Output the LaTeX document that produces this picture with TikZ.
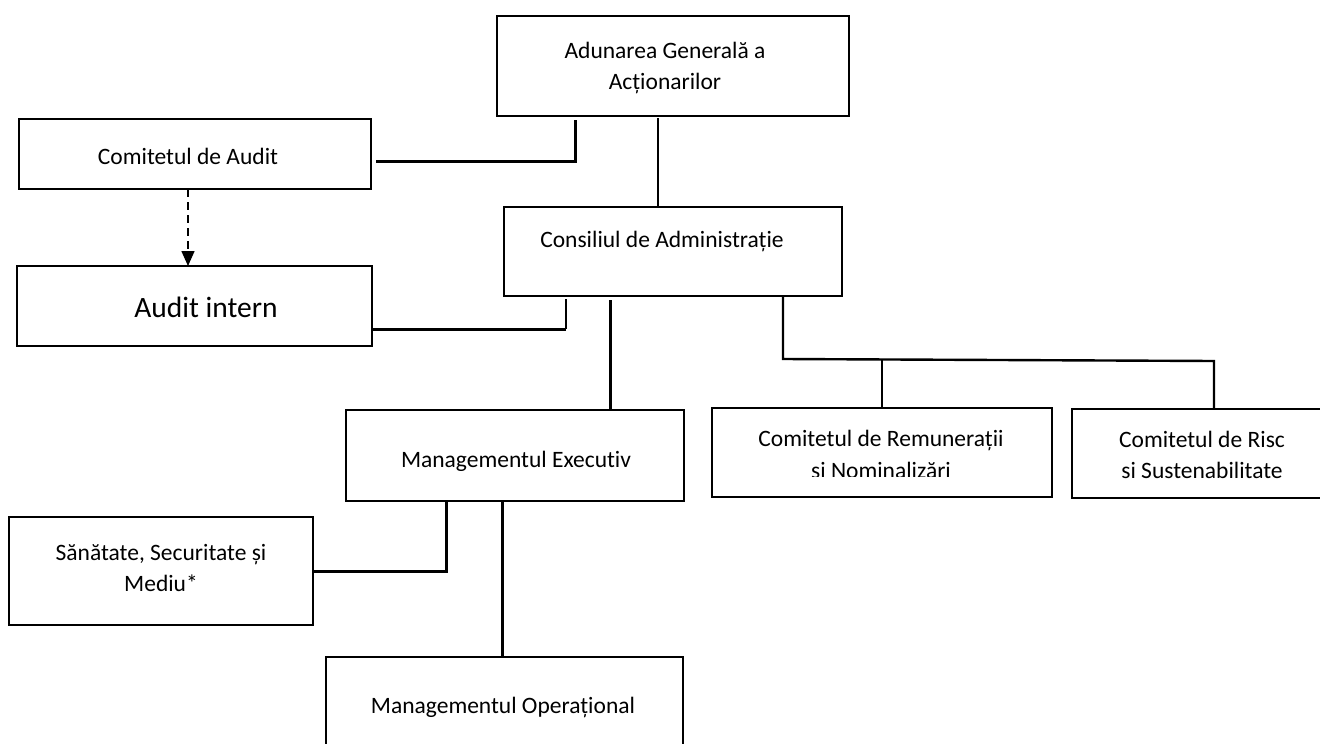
\documentclass[tikz,border=0pt]{standalone}
\usepackage{fontspec}
\setmainfont{Carlito}[Ligatures=NoCommon]
\usetikzlibrary{arrows.meta,calc}
\begin{document}
\begin{tikzpicture}[x=1pt,y=-1pt,
  box/.style={draw,line width=2.5pt,inner sep=0pt,outer sep=0pt,rectangle},
  txt/.style={align=center,inner sep=0pt,font=\fontsize{23.5}{31}\selectfont},
  bigtxt/.style={align=center,inner sep=0pt,font=\fontsize{29.5}{35}\selectfont},
  thickc/.style={line width=3pt},
  medc/.style={line width=2.4pt},
  thinc/.style={line width=1.2pt},
  dashc/.style={line width=1.5pt,dash pattern=on 8pt off 5pt,-{Triangle[length=15pt,width=13pt]}}]
\fill[white] (0,0) rectangle (1320,744);
\useasboundingbox (0,0) rectangle (1320,744);

% boxes
\node[box,minimum width=352pt,minimum height=100pt] (aga) at (673,66) {};
\node[txt] (agat) at (665,67.5) {Adunarea Generală a\\Acționarilor};

\node[box,minimum width=352pt,minimum height=70pt] (cda) at (195,154) {};
\node[txt] (cdat) at (188,156) {Comitetul de Audit};

\node[box,minimum width=355pt,minimum height=80pt] (ai) at (194.5,306) {};
\node[bigtxt] (ait) at (206,307) {Audit intern};

\node[box,minimum width=338pt,minimum height=89pt] (ca) at (673,251.5) {};
\node[txt] (cat) at (662,241) {Consiliul de Administrație};

\node[box,minimum width=338pt,minimum height=91pt] (me) at (515,455.5) {};
\node[txt] (met) at (516,461) {Managementul Executiv};

\node[box,minimum width=340pt,minimum height=89pt] (rem) at (882,452.5) {};
\node[txt] (remt1) at (881,440) {Comitetul de Remunerații};
\begin{scope}
\clip (712,450) rectangle (1052,476);
\node[txt] (remt2) at (881,470) {si Nominalizări};
\end{scope}

\node[box,minimum width=260pt,minimum height=89pt] (risc) at (1202,453.5) {};
\node[txt] (risct) at (1202,454.5) {Comitetul de Risc\\si Sustenabilitate};

\node[box,minimum width=304pt,minimum height=108pt] (ssm) at (161,571) {};
\node[txt] (ssmt) at (161,568) {Sănătate, Securitate și\\Mediu*};

\node[box,minimum width=357pt,minimum height=143pt] (mo) at (504.5,728.5) {};
\node[txt] (mot) at (503,707) {Managementul Operațional};

% connectors
\draw[thickc] ($(cda.east)+(5,7)$) -| ($(aga.south)+(-98,4)$);
\draw[thinc] ($(aga.south)+(-15,2)$) -- ($(ca.north)+(-15,0)$);
\draw[dashc] ($(cda.south)+(-7,0)$) -- ($(ai.north)+(-6.5,0)$);
\coordinate (aic) at ($(ca.south)+(-107,33)$);
\draw[thickc] ($(ai.east)+(0,23)$) -- (aic);
\draw[thinc] (aic) -- ($(ca.south)+(-107,3)$);
\draw[thickc] ($(ca.south)+(-63,4)$) -- ($(me.north)+(95,0)$);
\coordinate (cb) at ($(ca.south)+(110,63)$);
\draw[medc] (ca.south -| cb) -- (cb) -- ($(cb -| risc.north)+(12,2)$) -- ($(risc.north)+(12,0)$);
\draw[medc] ($(cb -| rem.north)+(0,1)$) -- (rem.north);
\draw[thickc] ($(me.south)+(-69,1)$) |- (ssm.east);
\draw[thickc] ($(me.south)+(-13,0)$) -- ($(mo.north)+(-2.5,0)$);
\end{tikzpicture}
\end{document}
